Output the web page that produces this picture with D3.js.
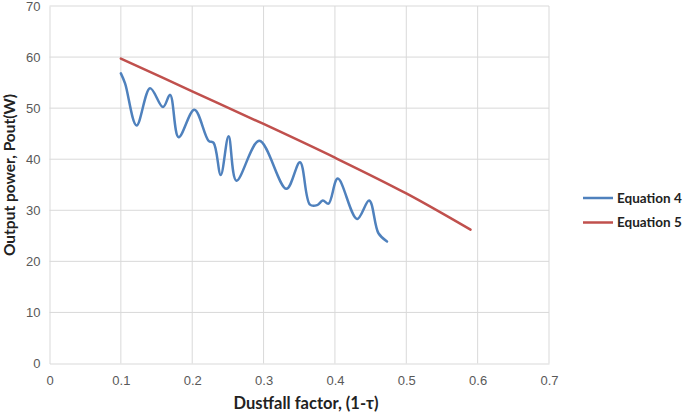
<!DOCTYPE html>
<html>
<head>
<meta charset="utf-8">
<script src="https://cdn.jsdelivr.net/npm/d3@7"></script>
<style>
  body { margin: 0; background: #fff; }
  svg { display: block; font-family: Lato, "Open Sans", sans-serif; }
</style>
</head>
<body>
<svg id="chart" width="685" height="415"></svg>
<script>
// Equation 4 (measured curve), x = dustfall factor, y = output power (W)
const eq4X = [0.100, 0.106, 0.122, 0.141, 0.159, 0.169, 0.181, 0.203, 0.223, 0.230,
  0.240, 0.251, 0.262, 0.294, 0.332, 0.351, 0.365, 0.375, 0.383, 0.391,
  0.404, 0.431, 0.448, 0.461, 0.473];
const eq4Y = [56.8, 54.8, 46.6, 53.9, 50.2, 52.6, 44.3, 49.7, 43.6, 43.2,
  36.9, 44.5, 35.8, 43.6, 34.2, 39.4, 31.1, 31.0, 31.9, 31.3,
  36.2, 28.3, 31.9, 25.5, 23.9];

// Equation 5 (model curve)
const eq5X = [0.10, 0.20, 0.30, 0.40, 0.50, 0.59];
const eq5Y = [59.7, 53.3, 46.9, 40.3, 33.3, 26.2];

const xTicks = [0, 0.1, 0.2, 0.3, 0.4, 0.5, 0.6, 0.7];
const yTicks = [0, 10, 20, 30, 40, 50, 60, 70];
const seriesNames = ['Equation 4', 'Equation 5'];
const seriesColors = ['#4F81BD', '#C0504D'];

const svg = d3.select('#chart');
const margin = { left: 49.5, right: 136, top: 6, bottom: 51.5 };
const W = 685, H = 415;

const x = d3.scaleLinear().domain([0, 0.7]).range([margin.left, W - margin.right]);
const y = d3.scaleLinear().domain([0, 70]).range([H - margin.bottom, margin.top]);

// gridlines
svg.append('g')
  .selectAll('line')
  .data(yTicks.filter(d => d > 0))
  .join('line')
  .attr('x1', x(0)).attr('x2', x(0.7))
  .attr('y1', d => y(d)).attr('y2', d => y(d))
  .attr('stroke', '#D9D9D9').attr('stroke-width', 1);

svg.append('g')
  .selectAll('line')
  .data(xTicks.filter(d => d > 0))
  .join('line')
  .attr('x1', d => x(d)).attr('x2', d => x(d))
  .attr('y1', y(0)).attr('y2', y(70))
  .attr('stroke', '#D9D9D9').attr('stroke-width', 1);

// axes
const xAxis = svg.append('g')
  .attr('transform', `translate(0,${y(0)})`)
  .call(d3.axisBottom(x).tickValues(xTicks).tickSize(0).tickPadding(12)
    .tickFormat(d => d === 0 ? '0' : d3.format('.1f')(d)));
xAxis.select('.domain').attr('stroke', '#D9D9D9');
xAxis.selectAll('text').attr('fill', '#595959').attr('font-size', 13);

const yAxis = svg.append('g')
  .attr('transform', `translate(${x(0)},0)`)
  .call(d3.axisLeft(y).tickValues(yTicks).tickSize(0).tickPadding(9));
yAxis.select('.domain').attr('stroke', '#D9D9D9');
yAxis.selectAll('text').attr('fill', '#595959').attr('font-size', 13);

// lines
const line = d3.line()
  .x(d => x(d[0]))
  .y(d => y(d[1]))
  .curve(d3.curveCatmullRom.alpha(0.5));

const series = [
  d3.zip(eq4X, eq4Y),
  d3.zip(eq5X, eq5Y)
];

svg.append('g')
  .selectAll('path')
  .data(series)
  .join('path')
  .attr('d', line)
  .attr('fill', 'none')
  .attr('stroke', (d, i) => seriesColors[i])
  .attr('stroke-width', 2.5)
  .attr('stroke-linecap', 'round')
  .attr('stroke-linejoin', 'round');

// axis titles
svg.append('text')
  .attr('x', 306)
  .attr('y', 409)
  .attr('text-anchor', 'middle')
  .attr('font-size', 16.5)
  .attr('font-weight', 'bold')
  .attr('fill', '#222')
  .text('Dustfall factor, (1-τ)');

svg.append('text')
  .attr('transform', 'translate(15,175) rotate(-90)')
  .attr('text-anchor', 'middle')
  .attr('font-size', 15.5)
  .attr('font-weight', 'bold')
  .attr('fill', '#222')
  .text('Output power, Pout(W)');

// legend
const legend = svg.append('g')
  .selectAll('g')
  .data(seriesNames)
  .join('g')
  .attr('transform', (d, i) => `translate(583,${198 + i * 24.5})`);

legend.append('line')
  .attr('x1', 0).attr('x2', 30)
  .attr('stroke', (d, i) => seriesColors[i])
  .attr('stroke-width', 2.5);

legend.append('text')
  .attr('x', 34)
  .attr('dy', '0.35em')
  .attr('font-size', 13.5)
  .attr('font-weight', 'bold')
  .attr('fill', '#222')
  .text(d => d);
</script>
</body>
</html>
